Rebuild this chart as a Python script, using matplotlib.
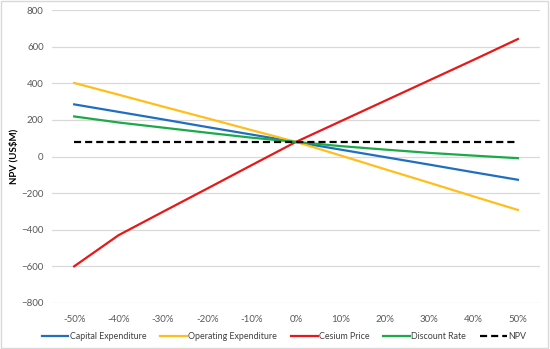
import matplotlib
matplotlib.use("Agg")
import matplotlib.pyplot as plt
from matplotlib.patches import Rectangle

# Sensitivity of project NPV (US$M) to +/- changes in key inputs
changes = ["-50%", "-40%", "-30%", "-20%", "-10%", "0%", "10%", "20%", "30%", "40%", "50%"]
capex = [285, 244, 203, 161, 120, 79, 38, -3, -44, -86, -127]
opex = [402, 338, 273, 209, 144, 80, 6, -69, -143, -218, -292]
cesium_price = [-600, -430, -302, -175, -47, 80, 192, 304, 416, 528, 642]
discount_rate = [219, 186, 158, 130, 103, 80, 57, 38, 20, 5, -9]
npv_base = [80] * len(changes)

plt.rcParams["font.family"] = ["Lato", "DejaVu Sans"]

fig = plt.figure(figsize=(5.5, 3.49), dpi=100)
ax = fig.add_axes([0.0945, 0.132, 0.8875, 0.839])

x = list(range(len(changes)))
lw = 1.6
ax.plot(x, capex, color="#1F6FC0", lw=lw, label="Capital Expenditure")
ax.plot(x, opex, color="#FFBE1A", lw=lw, label="Operating Expenditure")
ax.plot(x, cesium_price, color="#E81818", lw=lw, label="Cesium Price")
ax.plot(x, discount_rate, color="#1AAA48", lw=lw, label="Discount Rate")
ax.plot(x, npv_base, color="black", lw=lw, ls=(0, (3.2, 1.8)), label="NPV")

ax.set_xlim(-0.5, len(changes) - 0.5)
ax.set_ylim(-800, 800)
ax.set_yticks(range(-800, 801, 200))
ax.set_xticks(x)
ax.set_xticklabels(changes)
ax.tick_params(axis="both", length=0, labelsize=7, colors="#595959", pad=6)
ax.tick_params(axis="x", pad=9)
ax.grid(axis="y", color="#D9D9D9", lw=0.9)
ax.set_axisbelow(True)
for s in ax.spines.values():
    s.set_visible(False)

ax.set_ylabel("NPV (US$M)", fontsize=7, fontweight="bold", color="black", labelpad=2)

ax.legend(loc="upper center", bbox_to_anchor=(0.475, -0.073), ncol=5, frameon=False,
          fontsize=6.4, handlelength=3.0, columnspacing=1.55, handletextpad=0.15,
          labelcolor="#404040")

fig.add_artist(Rectangle((0.002, 0.003), 0.995, 0.993, transform=fig.transFigure,
                         fill=False, edgecolor="#D9D9D9", lw=1))

fig.savefig("out.png", dpi=100)
